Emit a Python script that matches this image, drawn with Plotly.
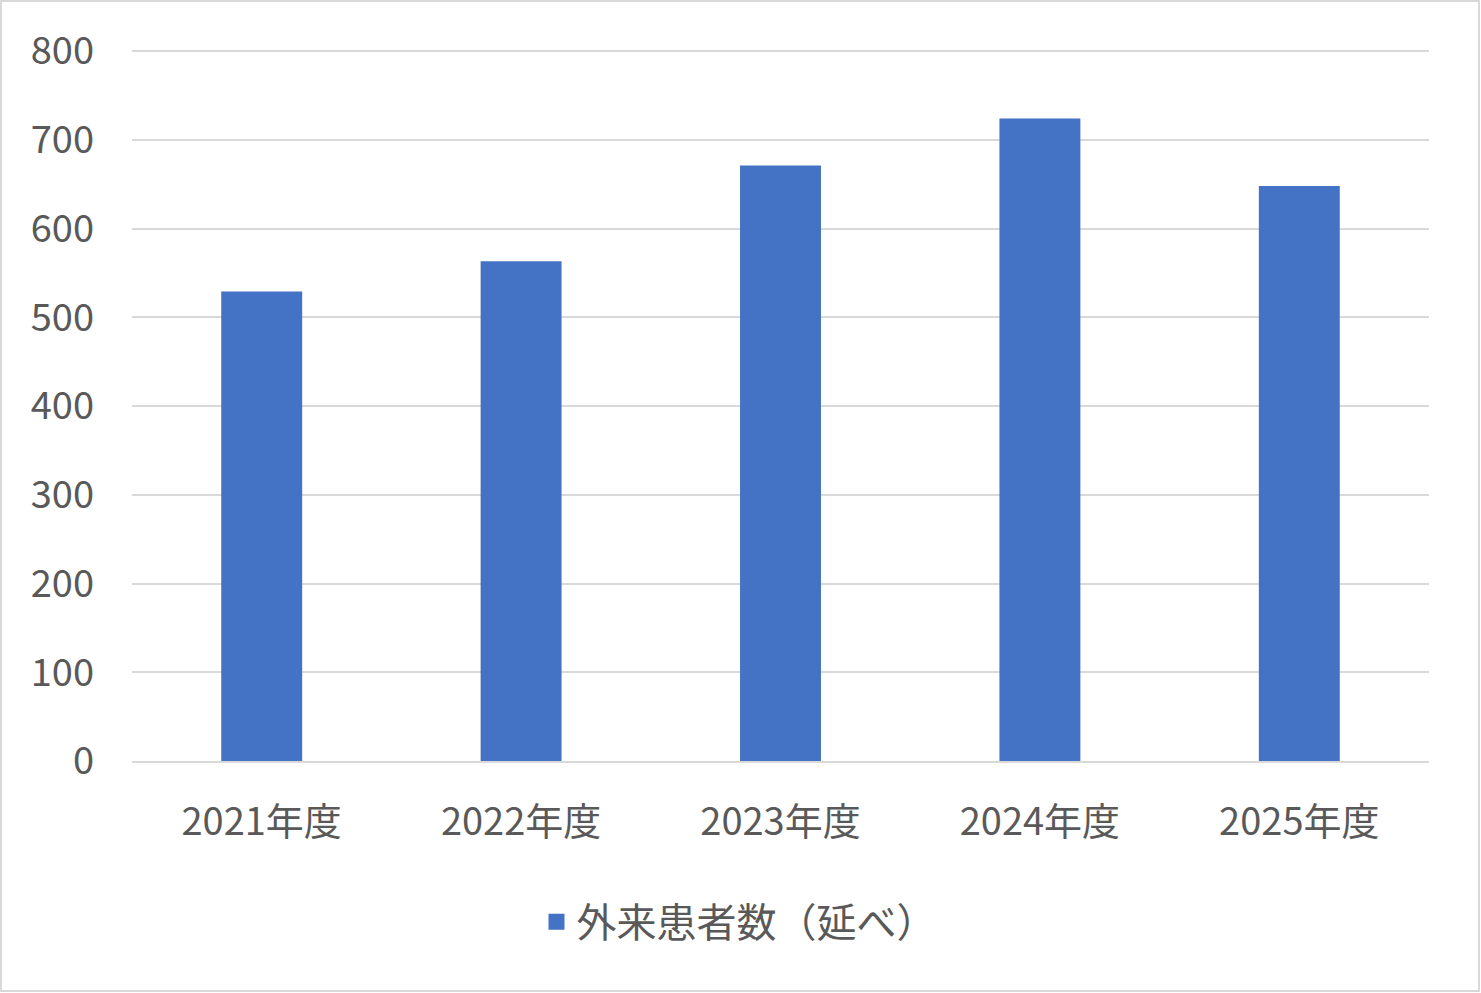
import plotly.graph_objects as go

# data
years = ["2021年度", "2022年度", "2023年度", "2024年度", "2025年度"]
patients = [529, 563, 671, 724, 648]
series_name = "外来患者数（延べ）"
y_ticks = [0, 100, 200, 300, 400, 500, 600, 700, 800]

FONT = "Noto Sans CJK JP"
GRID = "#d9d9d9"
TEXT = "#595959"
BAR = "#4472C4"

fig = go.Figure()
fig.add_trace(go.Bar(
    x=years,
    y=patients,
    name=series_name,
    marker=dict(color=BAR, line=dict(width=0)),
    showlegend=False,
))
# legend entry with a bigger square swatch, like Excel's
fig.add_trace(go.Scatter(
    x=[years[0]], y=[None],
    mode="markers",
    name=series_name,
    marker=dict(symbol="square", size=23, color=BAR),
    showlegend=True,
    hoverinfo="skip",
))

fig.update_layout(
    width=1481,
    height=993,
    margin=dict(l=132, r=52, t=47, b=232),
    paper_bgcolor="white",
    plot_bgcolor="white",
    bargap=0.688,
    font=dict(family=FONT, color=TEXT, size=38),
    showlegend=True,
    legend=dict(
        orientation="h",
        x=0.468, xanchor="center",
        y=-0.225, yanchor="middle",
        font=dict(size=40, color=TEXT),
        itemsizing="trace",
        itemwidth=30,
    ),
)

# axis a bit taller than 800 so the top gridline isn't clipped
fig.update_yaxes(
    range=[0, 804.5],
    tickvals=y_ticks,
    showgrid=True,
    gridcolor=GRID,
    gridwidth=2,
    zeroline=False,
    showline=False,
    ticks="",
    ticklabelstandoff=37,
    tickfont=dict(size=38, color=TEXT),
)
fig.update_xaxes(
    showgrid=False,
    showline=True,
    linecolor=GRID,
    linewidth=2,
    ticks="",
    ticklabelstandoff=26,
    tickfont=dict(size=38, color=TEXT),
)

# light frame around the whole chart
fig.add_shape(
    type="rect", xref="paper", yref="paper",
    x0=-131 / 1297, x1=1 + 50 / 1297,
    y0=-230 / 714, y1=1 + 46 / 714,
    line=dict(color=GRID, width=2),
    fillcolor="rgba(0,0,0,0)",
    layer="below",
)

fig.write_html(
    "out.html",
    config={"displayModeBar": False},
    post_script="document.body.style.margin='0';",
)
